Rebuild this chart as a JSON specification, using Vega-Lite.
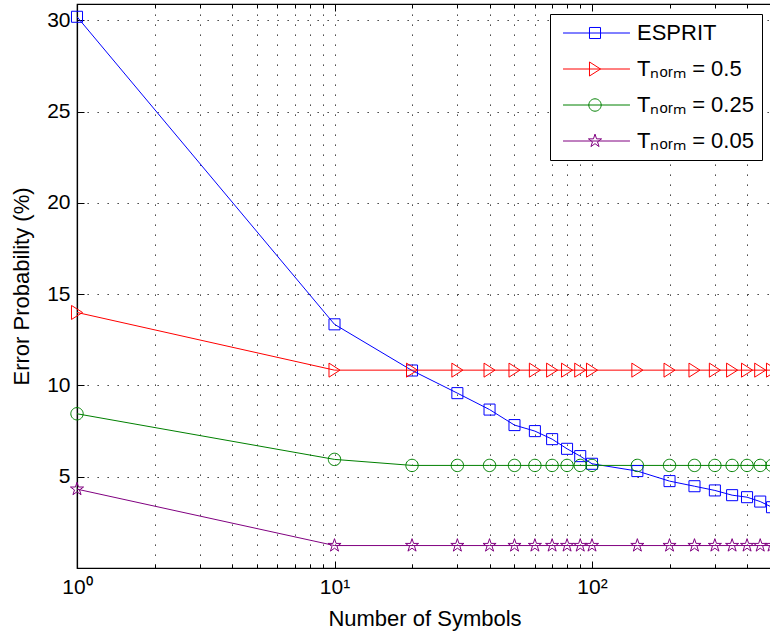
{
  "$schema": "https://vega.github.io/schema/vega-lite/v6.json",
  "autosize": "none",
  "width": 695,
  "height": 564,
  "padding": {"left": 77, "top": 4, "right": 0, "bottom": 70},
  "background": "white",
  "config": {
    "font": "Liberation Sans",
    "view": {"stroke": "black", "strokeWidth": 1.2},
    "axis": {
      "domainColor": "black", "domainWidth": 1.2,
      "tickColor": "black", "tickWidth": 1,
      "labelColor": "black", "titleColor": "black",
      "labelFont": "Liberation Sans", "titleFont": "Liberation Sans",
      "labelFontSize": 21, "titleFontSize": 22, "titleFontWeight": "normal",
      "gridColor": "#222222", "gridDash": [1.3, 8.7], "gridWidth": 1, "gridOpacity": 1
    }
  },
  "datasets": {
    "pts": [
      {"n": 1, "p": 30.2, "s": "ESPRIT"},
      {"n": 10, "p": 13.35, "s": "ESPRIT"},
      {"n": 20, "p": 10.82, "s": "ESPRIT"},
      {"n": 30, "p": 9.58, "s": "ESPRIT"},
      {"n": 40, "p": 8.68, "s": "ESPRIT"},
      {"n": 50, "p": 7.83, "s": "ESPRIT"},
      {"n": 60, "p": 7.5, "s": "ESPRIT"},
      {"n": 70, "p": 7.06, "s": "ESPRIT"},
      {"n": 80, "p": 6.53, "s": "ESPRIT"},
      {"n": 90, "p": 6.13, "s": "ESPRIT"},
      {"n": 100, "p": 5.71, "s": "ESPRIT"},
      {"n": 150, "p": 5.31, "s": "ESPRIT"},
      {"n": 200, "p": 4.76, "s": "ESPRIT"},
      {"n": 250, "p": 4.48, "s": "ESPRIT"},
      {"n": 300, "p": 4.25, "s": "ESPRIT"},
      {"n": 350, "p": 3.99, "s": "ESPRIT"},
      {"n": 400, "p": 3.88, "s": "ESPRIT"},
      {"n": 450, "p": 3.64, "s": "ESPRIT"},
      {"n": 500, "p": 3.33, "s": "ESPRIT"},
      {"n": 1, "p": 14.0, "s": "Tₙₒᵣₘ = 0.5"},
      {"n": 10, "p": 10.84, "s": "Tₙₒᵣₘ = 0.5"},
      {"n": 20, "p": 10.84, "s": "Tₙₒᵣₘ = 0.5"},
      {"n": 30, "p": 10.84, "s": "Tₙₒᵣₘ = 0.5"},
      {"n": 40, "p": 10.84, "s": "Tₙₒᵣₘ = 0.5"},
      {"n": 50, "p": 10.84, "s": "Tₙₒᵣₘ = 0.5"},
      {"n": 60, "p": 10.84, "s": "Tₙₒᵣₘ = 0.5"},
      {"n": 70, "p": 10.84, "s": "Tₙₒᵣₘ = 0.5"},
      {"n": 80, "p": 10.84, "s": "Tₙₒᵣₘ = 0.5"},
      {"n": 90, "p": 10.84, "s": "Tₙₒᵣₘ = 0.5"},
      {"n": 100, "p": 10.84, "s": "Tₙₒᵣₘ = 0.5"},
      {"n": 150, "p": 10.84, "s": "Tₙₒᵣₘ = 0.5"},
      {"n": 200, "p": 10.84, "s": "Tₙₒᵣₘ = 0.5"},
      {"n": 250, "p": 10.84, "s": "Tₙₒᵣₘ = 0.5"},
      {"n": 300, "p": 10.84, "s": "Tₙₒᵣₘ = 0.5"},
      {"n": 350, "p": 10.84, "s": "Tₙₒᵣₘ = 0.5"},
      {"n": 400, "p": 10.84, "s": "Tₙₒᵣₘ = 0.5"},
      {"n": 450, "p": 10.84, "s": "Tₙₒᵣₘ = 0.5"},
      {"n": 500, "p": 10.84, "s": "Tₙₒᵣₘ = 0.5"},
      {"n": 1, "p": 8.45, "s": "Tₙₒᵣₘ = 0.25"},
      {"n": 10, "p": 5.95, "s": "Tₙₒᵣₘ = 0.25"},
      {"n": 20, "p": 5.62, "s": "Tₙₒᵣₘ = 0.25"},
      {"n": 30, "p": 5.62, "s": "Tₙₒᵣₘ = 0.25"},
      {"n": 40, "p": 5.62, "s": "Tₙₒᵣₘ = 0.25"},
      {"n": 50, "p": 5.62, "s": "Tₙₒᵣₘ = 0.25"},
      {"n": 60, "p": 5.62, "s": "Tₙₒᵣₘ = 0.25"},
      {"n": 70, "p": 5.62, "s": "Tₙₒᵣₘ = 0.25"},
      {"n": 80, "p": 5.62, "s": "Tₙₒᵣₘ = 0.25"},
      {"n": 90, "p": 5.62, "s": "Tₙₒᵣₘ = 0.25"},
      {"n": 100, "p": 5.62, "s": "Tₙₒᵣₘ = 0.25"},
      {"n": 150, "p": 5.62, "s": "Tₙₒᵣₘ = 0.25"},
      {"n": 200, "p": 5.62, "s": "Tₙₒᵣₘ = 0.25"},
      {"n": 250, "p": 5.62, "s": "Tₙₒᵣₘ = 0.25"},
      {"n": 300, "p": 5.62, "s": "Tₙₒᵣₘ = 0.25"},
      {"n": 350, "p": 5.62, "s": "Tₙₒᵣₘ = 0.25"},
      {"n": 400, "p": 5.62, "s": "Tₙₒᵣₘ = 0.25"},
      {"n": 450, "p": 5.62, "s": "Tₙₒᵣₘ = 0.25"},
      {"n": 500, "p": 5.62, "s": "Tₙₒᵣₘ = 0.25"},
      {"n": 1, "p": 4.32, "s": "Tₙₒᵣₘ = 0.05"},
      {"n": 10, "p": 1.23, "s": "Tₙₒᵣₘ = 0.05"},
      {"n": 20, "p": 1.23, "s": "Tₙₒᵣₘ = 0.05"},
      {"n": 30, "p": 1.23, "s": "Tₙₒᵣₘ = 0.05"},
      {"n": 40, "p": 1.23, "s": "Tₙₒᵣₘ = 0.05"},
      {"n": 50, "p": 1.23, "s": "Tₙₒᵣₘ = 0.05"},
      {"n": 60, "p": 1.23, "s": "Tₙₒᵣₘ = 0.05"},
      {"n": 70, "p": 1.23, "s": "Tₙₒᵣₘ = 0.05"},
      {"n": 80, "p": 1.23, "s": "Tₙₒᵣₘ = 0.05"},
      {"n": 90, "p": 1.23, "s": "Tₙₒᵣₘ = 0.05"},
      {"n": 100, "p": 1.23, "s": "Tₙₒᵣₘ = 0.05"},
      {"n": 150, "p": 1.23, "s": "Tₙₒᵣₘ = 0.05"},
      {"n": 200, "p": 1.23, "s": "Tₙₒᵣₘ = 0.05"},
      {"n": 250, "p": 1.23, "s": "Tₙₒᵣₘ = 0.05"},
      {"n": 300, "p": 1.23, "s": "Tₙₒᵣₘ = 0.05"},
      {"n": 350, "p": 1.23, "s": "Tₙₒᵣₘ = 0.05"},
      {"n": 400, "p": 1.23, "s": "Tₙₒᵣₘ = 0.05"},
      {"n": 450, "p": 1.23, "s": "Tₙₒᵣₘ = 0.05"},
      {"n": 500, "p": 1.23, "s": "Tₙₒᵣₘ = 0.05"}
    ]
  },
  "data": {"name": "pts"},
  "resolve": {"axis": {"x": "independent"}},
  "encoding": {
    "y": {
      "field": "p", "type": "quantitative",
      "scale": {"domain": [0, 30.9], "nice": false, "zero": false},
      "axis": {
        "title": "Error Probability (%)",
        "values": [5, 10, 15, 20, 25, 30],
        "grid": true,
        "tickSize": -7,
        "labelPadding": 14,
        "titlePadding": 13
      }
    }
  },
  "layer": [
    {
      "mark": {"type": "line", "strokeWidth": 1, "clip": true},
      "encoding": {
        "x": {
          "field": "n", "type": "quantitative",
          "scale": {"type": "log", "domain": [1, 500], "nice": false},
          "axis": {
            "orient": "bottom",
            "title": "Number of Symbols",
            "values": [1, 2, 3, 4, 5, 6, 7, 8, 9, 10, 20, 30, 40, 50, 60, 70, 80, 90, 100, 200, 300, 400, 500],
            "grid": true,
            "tickSize": {"condition": {"test": "datum.value == 1 || datum.value == 10 || datum.value == 100", "value": -7}, "value": -4},
            "labelPadding": 15,
            "labelExpr": "datum.value == 1 ? '10⁰' : datum.value == 10 ? '10¹' : datum.value == 100 ? '10²' : ''",
            "labelFlush": false,
            "labelOverlap": false,
            "titlePadding": 8
          }
        },
        "detail": {"field": "s", "type": "nominal"},
        "stroke": {
          "condition": [
            {"test": "datum.s === 'ESPRIT'", "value": "#0000ff"},
            {"test": "datum.s === 'Tₙₒᵣₘ = 0.5'", "value": "#ff0000"},
            {"test": "datum.s === 'Tₙₒᵣₘ = 0.25'", "value": "#008000"}
          ],
          "value": "#800080"
        }
      }
    },
    {
      "mark": {"type": "point", "filled": false, "size": 144, "strokeWidth": 1, "opacity": 1},
      "encoding": {
        "x": {
          "field": "n", "type": "quantitative",
          "axis": {
            "orient": "top",
            "title": null,
            "values": [1, 2, 3, 4, 5, 6, 7, 8, 9, 10, 20, 30, 40, 50, 60, 70, 80, 90, 100, 200, 300, 400, 500],
            "labels": false,
            "grid": false,
            "tickSize": {"condition": {"test": "datum.value == 1 || datum.value == 10 || datum.value == 100", "value": -7}, "value": -4}
          }
        },
        "shape": {
          "condition": [
            {"test": "datum.s === 'ESPRIT'", "value": "M-0.92,-0.92H0.92V0.92H-0.92Z"},
            {"test": "datum.s === 'Tₙₒᵣₘ = 0.5'", "value": "M-0.92,-1.17L0.92,0L-0.92,1.17Z"},
            {"test": "datum.s === 'Tₙₒᵣₘ = 0.25'", "value": "M1.03,0A1.03,1.03,0,1,1,-1.03,0A1.03,1.03,0,1,1,1.03,0Z"}
          ],
          "value": "M0,-1.15L0.259,-0.356L1.094,-0.355L0.418,0.136L0.676,0.93L0,0.44L-0.676,0.93L-0.418,0.136L-1.094,-0.355L-0.259,-0.356Z"
        },
        "color": {
          "field": "s", "type": "nominal",
          "scale": {
            "domain": ["ESPRIT", "Tₙₒᵣₘ = 0.5", "Tₙₒᵣₘ = 0.25", "Tₙₒᵣₘ = 0.05"],
            "range": ["#0000ff", "#ff0000", "#008000", "#800080"]
          },
          "legend": {
            "title": null, "orient": "top-right", "offset": 10,
            "strokeColor": "black", "fillColor": "white", "padding": 8,
            "labelFont": "Liberation Sans", "labelFontSize": 22, "labelColor": "black", "labelLimit": 400,
            "symbolSize": 144, "symbolOffset": 26, "labelOffset": 31, "rowPadding": 14, "symbolStrokeWidth": 1,
            "encoding": {"symbols": {"shape": {"value": {"expr": "datum.value === 'ESPRIT' ? 'M-5.33,0H5.83M-0.92,-0.92H0.92V0.92H-0.92Z' : datum.value === 'Tₙₒᵣₘ = 0.5' ? 'M-5.33,0H5.83M-0.92,-1.17L0.92,0L-0.92,1.17Z' : datum.value === 'Tₙₒᵣₘ = 0.25' ? 'M-5.33,0H5.83M1.03,0A1.03,1.03,0,1,1,-1.03,0A1.03,1.03,0,1,1,1.03,0Z' : 'M-5.33,0H5.83M0,-1.15L0.259,-0.356L1.094,-0.355L0.418,0.136L0.676,0.93L0,0.44L-0.676,0.93L-0.418,0.136L-1.094,-0.355L-0.259,-0.356Z'"}}}}
          }
        }
      }
    }
  ]
}
